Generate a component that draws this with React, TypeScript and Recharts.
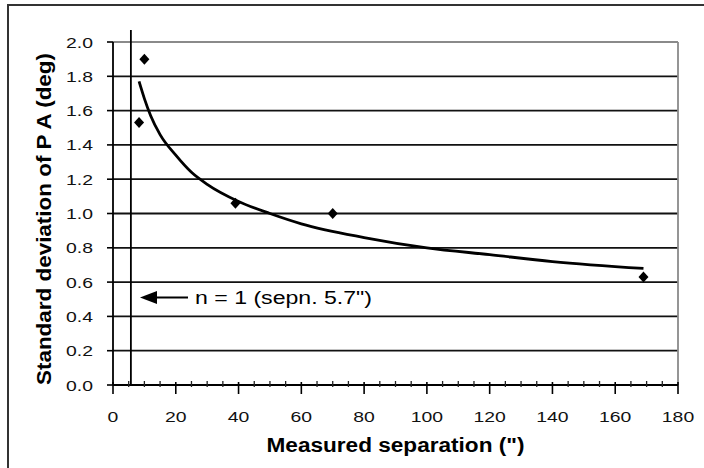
import React from 'react'
import {
  ComposedChart,
  Scatter,
  Line,
  XAxis,
  YAxis,
  ReferenceLine,
  ReferenceDot,
} from 'recharts'

// measured pairs (separation in arcsec, std dev of PA in deg)
const separation = [8.3, 10, 39, 70, 169]
const paStdDev = [1.53, 1.9, 1.06, 1.0, 0.63]

// trend curve
const trendSeparation = [8.3, 10, 12, 15, 20, 25, 30, 40, 50, 60, 80, 100, 120, 140, 169]
const trendStdDev = [1.77, 1.67, 1.57, 1.46, 1.34, 1.24, 1.17, 1.07, 1.0, 0.94, 0.86, 0.8, 0.76, 0.72, 0.68]

const xTicks = [
  0, 5, 10, 15, 20, 25, 30, 35, 40, 45, 50, 55, 60, 65, 70, 75, 80, 85, 90,
  95, 100, 105, 110, 115, 120, 125, 130, 135, 140, 145, 150, 155, 160, 165,
  170, 175, 180,
]
const yTicks = [0, 0.2, 0.4, 0.6, 0.8, 1.0, 1.2, 1.4, 1.6, 1.8, 2.0]

const singleSepn = 5.7
const singleSepnTop = 2.07
const noteX = 8.6
const noteY = 0.51
const noteText = 'n = 1 (sepn. 5.7")'
const xTitle = 'Measured separation (")'
const yTitle = 'Standard deviation of P A (deg)'

const FONT = '"Liberation Sans", Arial, sans-serif'

const points = separation.map((x, i) => ({ x, y: paStdDev[i] }))
const trend = trendSeparation.map((x, i) => ({ x, y: trendStdDev[i] }))

const Diamond = (props: any) => {
  const { cx, cy } = props
  return (
    <polygon
      points={`${cx},${cy - 5.5} ${cx + 5},${cy} ${cx},${cy + 5.5} ${cx - 5},${cy}`}
      fill="#000"
    />
  )
}

const XTick = ({ x, y, payload }: any) => {
  const major = payload.value % 20 === 0
  if (!major) {
    return <line x1={x} x2={x} y1={y - 4} y2={y + 2} stroke="#222" strokeWidth={1.3} />
  }
  return (
    <g>
      <line x1={x} x2={x} y1={y - 3} y2={y + 9} stroke="#000" strokeWidth={1.6} />
      <text
        transform={`translate(${x},${y + 37}) scale(1.25,1)`}
        textAnchor="middle"
        fontSize={15.5}
        fontFamily={FONT}
        fill="#111"
      >
        {payload.value}
      </text>
    </g>
  )
}

const YTick = ({ x, y, payload }: any) => (
  <text
    transform={`translate(${x},${y + 5.5}) scale(1.25,1)`}
    textAnchor="end"
    fontSize={15.5}
    fontFamily={FONT}
    fill="#111"
  >
    {Number(payload.value).toFixed(1)}
  </text>
)

const XTitle = (props: any) => {
  const { viewBox } = props
  return (
    <text
      x={viewBox.x + viewBox.width / 2}
      y={452}
      textAnchor="middle"
      fontSize={20}
      fontWeight="bold"
      fontFamily={FONT}
      fill="#000"
      textLength={258}
      lengthAdjust="spacingAndGlyphs"
    >
      {xTitle}
    </text>
  )
}

const YTitle = () => (
  <text
    transform="translate(51,219) rotate(-90)"
    x={0}
    y={0}
    textAnchor="middle"
    fontSize={20}
    fontWeight="bold"
    fontFamily={FONT}
    fill="#000"
    textLength={332}
    lengthAdjust="spacingAndGlyphs"
  >
    {yTitle}
  </text>
)

const Note = (props: any) => {
  const { cx, cy } = props
  return (
    <g>
      <polygon points={`${cx},${cy} ${cx + 17},${cy - 6.5} ${cx + 17},${cy + 6.5}`} fill="#000" />
      <line x1={cx + 12} x2={cx + 48} y1={cy} y2={cy} stroke="#000" strokeWidth={2} />
      <text
        x={cx + 55}
        y={cy + 6}
        fontSize={18}
        fontFamily={FONT}
        fill="#000"
        textLength={177}
        lengthAdjust="spacingAndGlyphs"
      >
        {noteText}
      </text>
    </g>
  )
}

export default function App() {
  return (
    <div
      style={{
        position: 'absolute',
        left: 0,
        top: 0,
        width: 704,
        height: 468,
        overflow: 'hidden',
        background: '#fff',
      }}
    >
      <div
        style={{
          position: 'absolute',
          left: 7,
          top: 4,
          width: 720,
          height: 462,
          border: '2px solid #333',
          borderBottomColor: '#777',
        }}
      />
      <div style={{ position: 'absolute', left: 0, top: 0 }}>
        <ComposedChart
          width={704}
          height={468}
          margin={{ top: 42, right: 26, bottom: 0, left: 0 }}
        >
          <XAxis
            type="number"
            dataKey="x"
            domain={[0, 180]}
            ticks={xTicks}
            interval={0}
            tick={<XTick />}
            tickLine={false}
            tickSize={0}
            tickMargin={0}
            axisLine={{ stroke: '#000', strokeWidth: 1.8 }}
            height={83}
            label={<XTitle />}
          />
          <YAxis
            type="number"
            domain={[0, 2]}
            ticks={yTicks}
            interval={0}
            tick={<YTick />}
            tickSize={6}
            tickMargin={14}
            tickLine={{ stroke: '#000', strokeWidth: 1.6 }}
            axisLine={{ stroke: '#000', strokeWidth: 1.8 }}
            width={113}
            label={<YTitle />}
          />
          {yTicks.slice(1).map((v) => (
            <ReferenceLine
              key={v}
              y={v}
              stroke={v === 2 ? '#8a8a8a' : '#111'}
              strokeWidth={1.8}
            />
          ))}
          <ReferenceLine x={180} stroke="#8a8a8a" strokeWidth={1.8} />
          <ReferenceLine
            segment={[
              { x: singleSepn, y: 0 },
              { x: singleSepn, y: singleSepnTop },
            ]}
            ifOverflow="visible"
            stroke="#000"
            strokeWidth={1.8}
          />
          <ReferenceDot x={noteX} y={noteY} shape={Note} ifOverflow="visible" />
          <Line
            data={trend}
            dataKey="y"
            type="monotone"
            stroke="#000"
            strokeWidth={2.8}
            dot={false}
            activeDot={false}
            isAnimationActive={false}
          />
          <Scatter
            data={points}
            dataKey="y"
            fill="#000"
            shape={Diamond}
            isAnimationActive={false}
          />
        </ComposedChart>
      </div>
    </div>
  )
}
